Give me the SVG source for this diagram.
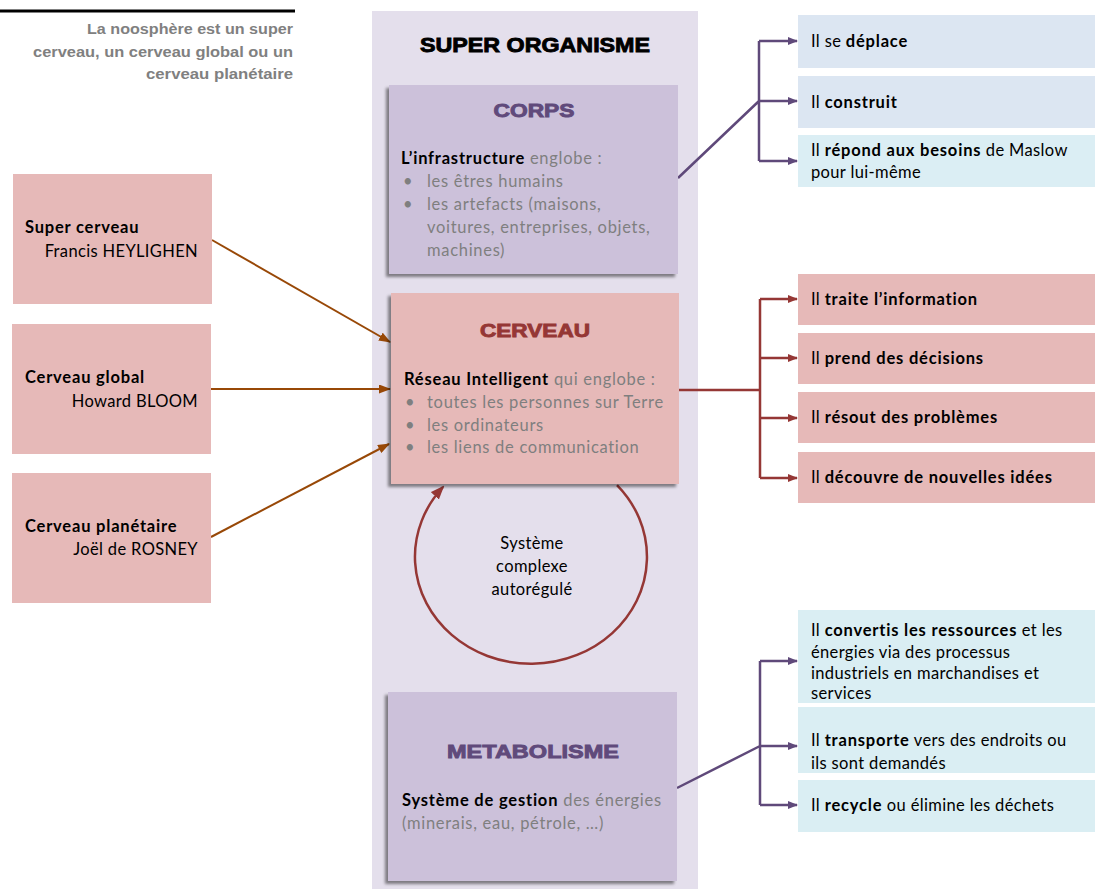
<svg xmlns="http://www.w3.org/2000/svg" width="1095" height="889" viewBox="0 0 1095 889">
<defs>
<filter id="sh" x="-10%" y="-10%" width="120%" height="120%">
<feDropShadow dx="-3" dy="3" stdDeviation="1.5" flood-color="#000" flood-opacity="0.45"/>
</filter>
<marker id="ap" markerWidth="10" markerHeight="8" refX="9" refY="4" orient="auto" markerUnits="userSpaceOnUse"><path d="M0,0 L10,4 L0,8 Z" fill="#5f497a"/></marker>
<marker id="ar" markerWidth="10" markerHeight="8" refX="9" refY="4" orient="auto" markerUnits="userSpaceOnUse"><path d="M0,0 L10,4 L0,8 Z" fill="#953735"/></marker>
<marker id="ab" markerWidth="12" markerHeight="9" refX="11" refY="4.5" orient="auto" markerUnits="userSpaceOnUse"><path d="M0,0 L12,4.5 L0,9 Z" fill="#984807"/></marker>
<marker id="ac" markerWidth="14" markerHeight="11" refX="12" refY="5.5" orient="auto" markerUnits="userSpaceOnUse"><path d="M0,0 L14,5.5 L0,11 Z" fill="#953735"/></marker>
</defs>
<style>
text{font-family:"Lato","Liberation Sans",sans-serif;font-size:16.5px;fill:#000;letter-spacing:0.35px}
.g{fill:#7f7f7f;letter-spacing:0.7px}
.b{font-weight:bold;letter-spacing:0.8px}
.h{font-family:"Liberation Sans",Arial,sans-serif;font-weight:bold;font-size:19px;text-anchor:middle;stroke-width:0.9;letter-spacing:0}
.note{font-family:"Liberation Sans",Arial,sans-serif;font-weight:bold;font-size:14px;fill:#808080;text-anchor:end;letter-spacing:0}
.lav{fill:#ccc1da}
.rose{fill:#e6b9b8}
.blu{fill:#dce6f2}
.cy{fill:#daeef3}
.pc{stroke:#5f497a;stroke-width:2.5;fill:none}
.rc{stroke:#953735;stroke-width:2.5;fill:none}
.bc{stroke:#984807;stroke-width:2;fill:none}
</style>
<rect x="0" y="0" width="1095" height="889" fill="#fff"/>
<g id="note">
<line x1="0" y1="11" x2="295" y2="11" stroke="#000" stroke-width="3"/>
<text class="note" x="293" y="34" textLength="206" lengthAdjust="spacingAndGlyphs">La noosphère est un super</text>
<text class="note" x="293" y="57" textLength="260" lengthAdjust="spacingAndGlyphs">cerveau, un cerveau global ou un</text>
<text class="note" x="293" y="79" textLength="147" lengthAdjust="spacingAndGlyphs">cerveau planétaire</text>
</g>
<g id="super-organisme">
<rect x="372" y="11" width="326" height="878" fill="#e4dfec"/>
<text class="h" x="535" y="52" textLength="230" lengthAdjust="spacingAndGlyphs" style="font-size:21px;fill:#000;stroke:#000">SUPER ORGANISME</text>
</g>
<g id="connectors">
<path class="rc" d="M617,485 A116 107 0 1 1 443,487" marker-end="url(#ac)"/>
<line class="bc" x1="212" y1="240" x2="390" y2="342" marker-end="url(#ab)"/>
<line class="bc" x1="211" y1="389" x2="390" y2="389" marker-end="url(#ab)"/>
<line class="bc" x1="211" y1="537" x2="389" y2="444" marker-end="url(#ab)"/>
<path class="pc" d="M678,178 L759,101 M759,41 L759,161"/>
<line class="pc" x1="759" y1="41" x2="797" y2="41" marker-end="url(#ap)"/>
<line class="pc" x1="759" y1="101" x2="797" y2="101" marker-end="url(#ap)"/>
<line class="pc" x1="759" y1="161" x2="797" y2="161" marker-end="url(#ap)"/>
<path class="rc" d="M679,390 L760,390 M760,299 L760,478"/>
<line class="rc" x1="760" y1="299" x2="797" y2="299" marker-end="url(#ar)"/>
<line class="rc" x1="760" y1="358" x2="797" y2="358" marker-end="url(#ar)"/>
<line class="rc" x1="760" y1="418" x2="797" y2="418" marker-end="url(#ar)"/>
<line class="rc" x1="760" y1="478" x2="797" y2="478" marker-end="url(#ar)"/>
<path class="pc" d="M677,788 L760,746 M760,661 L760,805"/>
<line class="pc" x1="760" y1="661" x2="797" y2="661" marker-end="url(#ap)"/>
<line class="pc" x1="760" y1="746" x2="797" y2="746" marker-end="url(#ap)"/>
<line class="pc" x1="760" y1="805" x2="797" y2="805" marker-end="url(#ap)"/>
</g>
<g id="corps">
<rect class="lav" x="389" y="85" width="289" height="189" filter="url(#sh)"/>
<text class="h" x="534" y="117" textLength="81" lengthAdjust="spacingAndGlyphs" style="fill:#604a7b;stroke:#604a7b">CORPS</text>
<text x="401" y="164"><tspan class="b">L’infrastructure</tspan><tspan class="g"> englobe :</tspan></text>
<text class="g" x="403" y="187">•</text><text class="g" x="427" y="187">les êtres humains</text>
<text class="g" x="403" y="210">•</text><text class="g" x="427" y="210">les artefacts (maisons,</text>
<text class="g" x="427" y="233">voitures, entreprises, objets,</text>
<text class="g" x="427" y="256">machines)</text>
</g>
<g id="cerveau">
<rect class="rose" x="391" y="293" width="288" height="191" filter="url(#sh)"/>
<text class="h" x="535" y="337" textLength="110" lengthAdjust="spacingAndGlyphs" style="fill:#953735;stroke:#953735">CERVEAU</text>
<text x="404" y="385"><tspan class="b">Réseau  Intelligent</tspan><tspan class="g"> qui englobe :</tspan></text>
<text class="g" x="405" y="408">•</text><text class="g" x="427" y="408">toutes les personnes sur Terre</text>
<text class="g" x="405" y="431">•</text><text class="g" x="427" y="431">les ordinateurs</text>
<text class="g" x="405" y="453">•</text><text class="g" x="427" y="453">les liens de communication</text>
</g>
<g id="auto">
<text x="532" y="549" text-anchor="middle">Système</text>
<text x="532" y="572" text-anchor="middle">complexe</text>
<text x="532" y="595" text-anchor="middle">autorégulé</text>
</g>
<g id="metabolisme">
<rect class="lav" x="388" y="692" width="289" height="189" filter="url(#sh)"/>
<text class="h" x="533" y="758" textLength="172" lengthAdjust="spacingAndGlyphs" style="fill:#604a7b;stroke:#604a7b">METABOLISME</text>
<text x="402" y="806"><tspan class="b">Système de gestion</tspan><tspan class="g"> des énergies</tspan></text>
<text class="g" x="402" y="829">(minerais, eau, pétrole, …)</text>
</g>
<g id="super-cerveau">
<rect class="rose" x="13" y="174" width="199" height="130"/>
<text class="b" x="25" y="233">Super cerveau</text>
<text x="198" y="257" text-anchor="end">Francis HEYLIGHEN</text>
</g>
<g id="cerveau-global">
<rect class="rose" x="12" y="324" width="199" height="130"/>
<text class="b" x="25" y="383">Cerveau global</text>
<text x="198" y="407" text-anchor="end">Howard BLOOM</text>
</g>
<g id="cerveau-planetaire">
<rect class="rose" x="12" y="473" width="199" height="130"/>
<text class="b" x="25" y="532">Cerveau planétaire</text>
<text x="198" y="555" text-anchor="end">Joël de ROSNEY</text>
</g>
<g id="deplace">
<rect class="blu" x="798" y="15" width="297" height="53"/>
<text x="811" y="47">Il se <tspan class="b">déplace</tspan></text>
</g>
<g id="construit">
<rect class="blu" x="798" y="76" width="297" height="52"/>
<text x="811" y="108">Il <tspan class="b">construit</tspan></text>
</g>
<g id="repond">
<rect fill="#dbeef4" x="798" y="135" width="297" height="52"/>
<text x="811" y="156">Il <tspan class="b">répond aux besoins</tspan> de Maslow</text>
<text x="811" y="178">pour lui-même</text>
</g>
<g id="traite">
<rect class="rose" x="798" y="274" width="297" height="51"/>
<text x="811" y="305">Il <tspan class="b">traite l’information</tspan></text>
</g>
<g id="prend">
<rect class="rose" x="798" y="333" width="297" height="51"/>
<text x="811" y="364">Il <tspan class="b">prend des décisions</tspan></text>
</g>
<g id="resout">
<rect class="rose" x="798" y="392" width="297" height="51"/>
<text x="811" y="423">Il <tspan class="b">résout des problèmes</tspan></text>
</g>
<g id="decouvre">
<rect class="rose" x="798" y="452" width="297" height="51"/>
<text x="811" y="483">Il <tspan class="b">découvre de nouvelles idées</tspan></text>
</g>
<g id="convertis">
<rect class="cy" x="798" y="610" width="297" height="93"/>
<text x="811" y="636">Il <tspan class="b">convertis les ressources</tspan> et les</text>
<text x="811" y="658">énergies via des processus</text>
<text x="811" y="679">industriels en marchandises et</text>
<text x="811" y="699">services</text>
</g>
<g id="transporte">
<rect class="cy" x="798" y="707" width="297" height="66"/>
<text x="811" y="746">Il <tspan class="b">transporte</tspan> vers des endroits ou</text>
<text x="811" y="769">ils sont demandés</text>
</g>
<g id="recycle">
<rect class="cy" x="798" y="780" width="297" height="52"/>
<text x="811" y="811">Il <tspan class="b">recycle</tspan> ou élimine les déchets</text>
</g>
</svg>
